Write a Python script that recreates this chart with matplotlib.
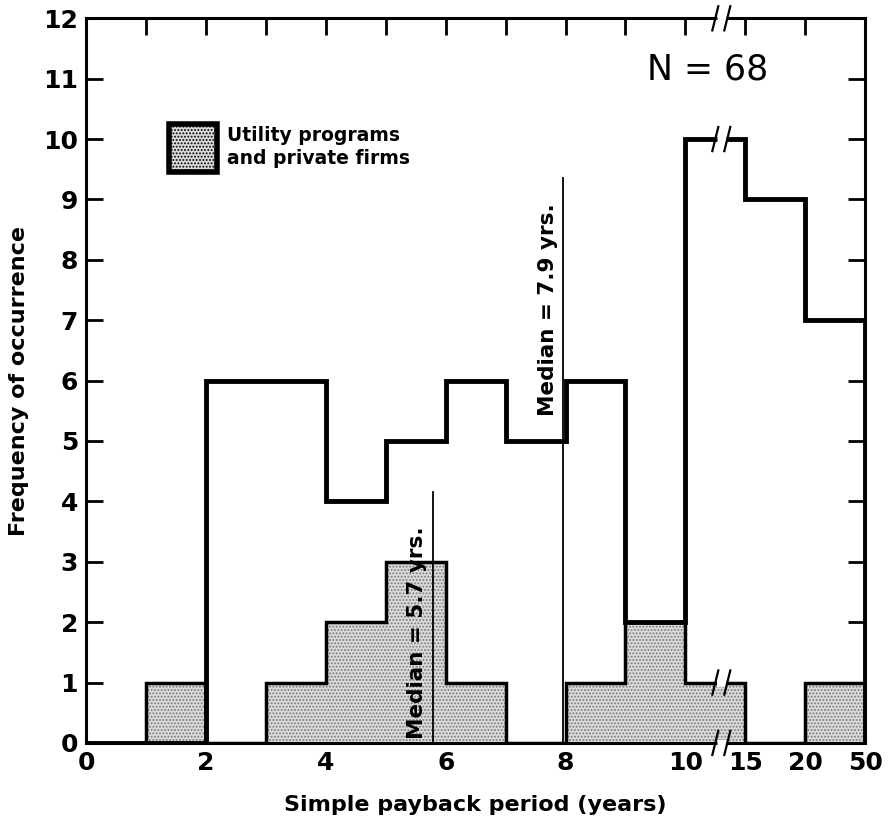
import numpy as np
import matplotlib
matplotlib.use("Agg")
from matplotlib import pyplot as plt
from matplotlib.patches import Rectangle

plt.rcParams['font.family'] = ['DejaVu Sans']
plt.rcParams['hatch.color'] = '#7a7a7a'
plt.rcParams['hatch.linewidth'] = 0.9

# bin edges in plot units (after 10 each bin is one unit: 10-15, 15-20, 20-50)
edges = np.arange(0, 14)
# all programs (outline)
total_counts = [0, 0, 6, 6, 4, 5, 6, 5, 6, 2, 10, 9, 7]
# utility programs and private firms (shaded)
utility_counts = [0, 1, 0, 1, 2, 3, 1, 0, 1, 2, 1, 0, 1]

xtick_pos = [0, 2, 4, 6, 8, 10, 11, 12, 13]
xtick_labels = ['0', '2', '4', '6', '8', '10', '15', '20', '50']

median_all = 7.95
median_utility = 5.78

fig = plt.figure(figsize=(8.9, 8.31), dpi=100)
ax = fig.add_axes([0.097, 0.106, 0.875, 0.872])

# shaded histogram (fill + outline)
ax.stairs(utility_counts, edges, fill=True, facecolor='#dadada', hatch='.....',
          edgecolor='#7a7a7a', linewidth=0, zorder=2)
ax.stairs(utility_counts, edges, color='black', linewidth=2.5, zorder=2.5)

# outline histogram
ax.stairs(total_counts, edges, color='black', linewidth=3.5, zorder=3)

# median lines
ax.plot([median_utility, median_utility], [0, 4.15], color='black', lw=1.3, zorder=4)
ax.plot([median_all, median_all], [0, 9.35], color='black', lw=1.3, zorder=4)
ax.text(median_utility - 0.1, 0.06, 'Median = 5.7 yrs.', rotation=90, ha='right',
        va='bottom', fontsize=15.5, fontweight='bold', zorder=5)
ax.text(median_all - 0.08, 5.42, 'Median = 7.9 yrs.', rotation=90, ha='right',
        va='bottom', fontsize=15.5, fontweight='bold', zorder=5)

ax.text(10.37, 11.15, 'N = 68', ha='center', va='center', fontsize=25)

# legend
ax.add_patch(Rectangle((1.38, 9.45), 0.8, 0.8, facecolor='#dadada', hatch='.....',
                       edgecolor='black', linewidth=4, zorder=4))
ax.text(2.35, 9.87, 'Utility programs\nand private firms', ha='left', va='center',
        fontsize=13.5, fontweight='bold', linespacing=1.3)

# axis break marks
def brk(y, lw):
    ax.plot([10.52, 10.68], [y, y], color='white', lw=lw + 3, zorder=6,
            solid_capstyle='butt', clip_on=False)
    for xb in (10.5, 10.7):
        ax.plot([xb - 0.05, xb + 0.05], [y - 0.2, y + 0.2], color='black',
                lw=1.6, zorder=7, clip_on=False)

brk(12, 2)
brk(0, 2)
brk(10, 3.5)
brk(1, 2.5)

ax.set_xlim(0, 13)
ax.set_ylim(0, 12)
ax.set_xticks(xtick_pos)
ax.set_xticklabels(xtick_labels)
ax.set_xticks(np.arange(0, 14), minor=True)
ax.set_yticks(np.arange(0, 13))
ax.tick_params(axis='both', which='both', direction='in', top=True, right=True,
               width=2, labelsize=18)
ax.tick_params(axis='both', which='major', length=12)
ax.tick_params(axis='x', which='minor', length=12)
ax.tick_params(axis='y', which='major', pad=6)
ax.tick_params(axis='x', which='major', pad=6)
for lab in ax.get_xticklabels() + ax.get_yticklabels():
    lab.set_fontweight('bold')
for s in ax.spines.values():
    s.set_linewidth(2.2)

ax.set_xlabel('Simple payback period (years)', fontsize=16, fontweight='bold', labelpad=14)
ax.set_ylabel('Frequency of occurrence', fontsize=16, fontweight='bold', labelpad=10)

fig.savefig('out.png', dpi=100)
